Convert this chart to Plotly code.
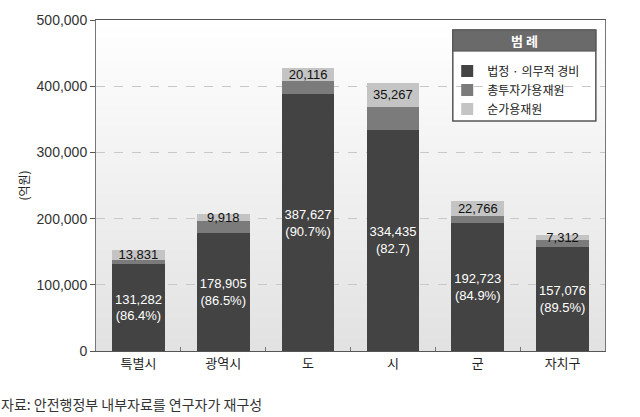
import plotly.graph_objects as go
import base64, zlib, struct

categories = ["특별시", "광역시", "도", "시", "군", "자치구"]
mandatory = [131282, 178905, 387627, 334435, 192723, 157076]
mandatory_pct = ["(86.4%)", "(86.5%)", "(90.7%)", "(82.7)", "(84.9%)", "(89.5%)"]
investable = [6834, 18004, 19630, 34693, 11511, 11116]
net_available = [13831, 9918, 20116, 35267, 22766, 7312]
y_ticks = [0, 100000, 200000, 300000, 400000, 500000]

FONT = "Liberation Sans, Arial, Noto Sans CJK KR, sans-serif"
KFONT = "Noto Sans CJK KR"

bottom_text = [f"{v:,}<br>{p}" for v, p in zip(mandatory, mandatory_pct)]
top_text = [f"{v:,}" for v in net_available]


def gradient_png(top=255, bottom=226, h=64):
    rows = b""
    for i in range(h):
        c = round(top + (bottom - top) * i / (h - 1))
        rows += b"\x00" + bytes([c, c, c])
    def chunk(t, d):
        return struct.pack(">I", len(d)) + t + d + struct.pack(">I", zlib.crc32(t + d) & 0xffffffff)
    png = b"\x89PNG\r\n\x1a\n"
    png += chunk(b"IHDR", struct.pack(">IIBBBBB", 1, h, 8, 2, 0, 0, 0))
    png += chunk(b"IDAT", zlib.compress(rows))
    png += chunk(b"IEND", b"")
    return "data:image/png;base64," + base64.b64encode(png).decode()


fig = go.Figure()
fig.add_trace(go.Bar(
    x=categories, y=mandatory, name="법정 · 의무적 경비",
    marker=dict(color="#434343", line=dict(width=0)),
    text=bottom_text, textposition="inside", insidetextanchor="middle",
    textangle=0, constraintext="none",
    textfont=dict(color="white", size=13, family=FONT),
    width=0.62,
))
fig.add_trace(go.Bar(
    x=categories, y=investable, name="총투자가용재원",
    marker=dict(color="#7b7b7b", line=dict(width=0)),
    width=0.62,
))
fig.add_trace(go.Bar(
    x=categories, y=net_available, name="순가용재원",
    marker=dict(color="#c4c4c4", line=dict(width=0)),
    text=top_text, textposition="inside", insidetextanchor="middle",
    textangle=0, constraintext="none",
    textfont=dict(color="#111111", size=13, family=FONT),
    width=0.62,
))

fig.update_layout(
    width=640, height=417,
    margin=dict(l=96, r=35, t=20, b=66),
    barmode="stack",
    paper_bgcolor="white",
    plot_bgcolor="rgba(0,0,0,0)",
    font=dict(family=FONT, size=12, color="#222222"),
    showlegend=True,
    legend=dict(
        x=0.69, y=0.89, xanchor="left", yanchor="top",
        bgcolor="rgba(0,0,0,0)", borderwidth=0,
        traceorder="normal", tracegroupgap=0,
        font=dict(size=12, family=KFONT, color="#222222"),
        itemwidth=30,
    ),
    images=[dict(source=gradient_png(), xref="paper", yref="paper", x=0, y=1,
                 sizex=1, sizey=1, xanchor="left", yanchor="top",
                 sizing="stretch", layer="below")],
    xaxis=dict(
        showline=True, linecolor="#555555", linewidth=1, mirror=True,
        ticks="inside", tickson="boundaries", ticklen=4, tickcolor="#777777",
        tickfont=dict(size=13, family=KFONT, color="#222222"),
        showgrid=False,
    ),
    yaxis=dict(
        range=[0, 500000], tickvals=y_ticks, tickformat=",",
        showline=True, linecolor="#777777", linewidth=1, mirror=True,
        ticks="outside", ticklen=5, tickcolor="#555555",
        showgrid=True, gridcolor="#c8c8c8", griddash="dash", gridwidth=1,
        zeroline=False,
        tickfont=dict(size=14, color="#333333"),
        title=dict(text="(억원)", font=dict(size=12, family=KFONT, color="#222222"), standoff=4),
    ),
    shapes=[
        dict(type="rect", xref="paper", yref="paper", x0=0.701, x1=0.982, y0=0.695, y1=0.97,
             line=dict(color="#555555", width=1.5), fillcolor="white", layer="between"),
        dict(type="rect", xref="paper", yref="paper", x0=0.701, x1=0.982, y0=0.906, y1=0.97,
             line=dict(color="#555555", width=1), fillcolor="#6a6a6a", layer="between"),
    ],
    annotations=[
        dict(text="<b>범 례</b>", xref="paper", yref="paper", x=0.8415, y=0.938,
             xanchor="center", yanchor="middle",
             showarrow=False, font=dict(color="white", size=13, family=KFONT)),
        dict(text="자료: 안전행정부 내부자료를 연구자가 재구성", xref="paper", yref="paper",
             x=-0.19, y=-0.16, xanchor="left", yanchor="middle", showarrow=False,
             font=dict(size=14, family=KFONT, color="#333333")),
    ],
)

fig.write_html("out.html")
